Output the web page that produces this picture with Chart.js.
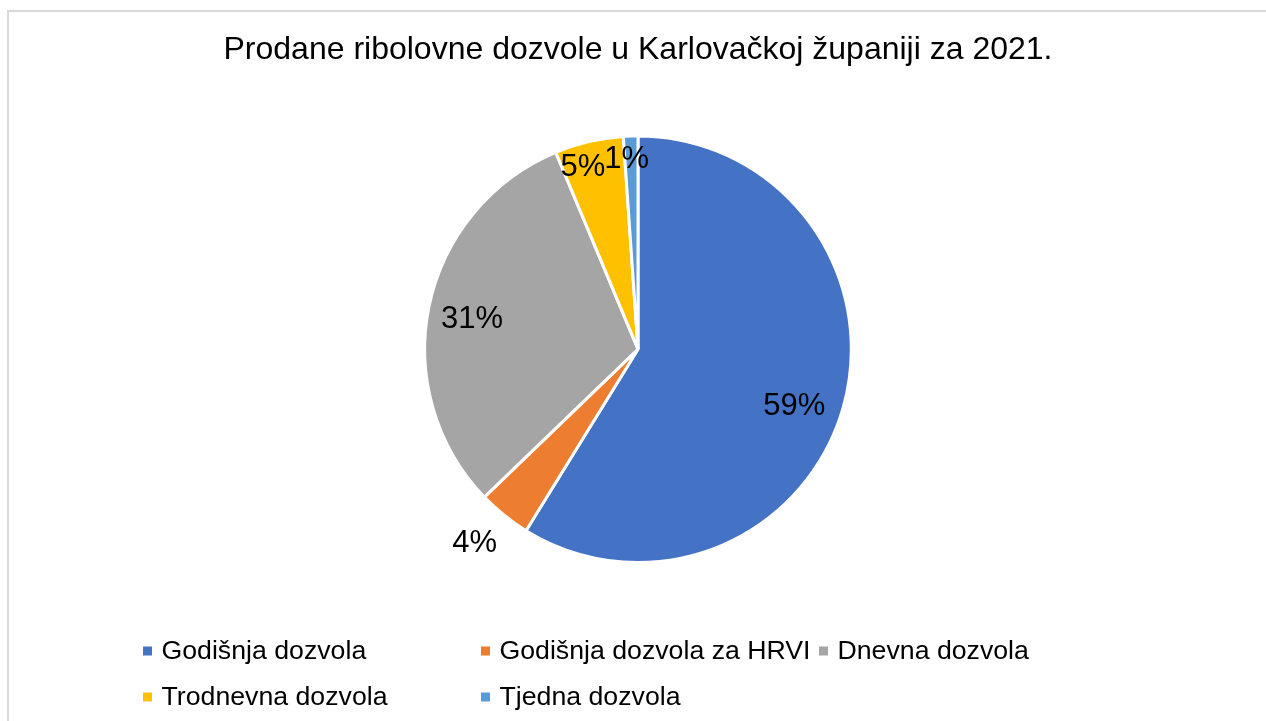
<!DOCTYPE html>
<html>
<head>
<meta charset="utf-8">
<script src="https://cdn.jsdelivr.net/npm/chart.js@4.4.1/dist/chart.umd.min.js"></script>
<style>
  html, body { margin: 0; padding: 0; background: #fff; }
  #wrap { width: 1266px; height: 721px; position: relative; }
</style>
</head>
<body>
<div id="wrap"><canvas id="pieChart"></canvas></div>
<script>
const chartTitle = "Prodane ribolovne dozvole u Karlovačkoj županiji za 2021.";
const permitTypes = [
  "Godišnja dozvola",
  "Godišnja dozvola za HRVI",
  "Dnevna dozvola",
  "Trodnevna dozvola",
  "Tjedna dozvola"
];
const permitShares = [58.8, 4.0, 30.9, 5.2, 1.1];
const sliceColors = ["#4472c4", "#ed7d31", "#a5a5a5", "#ffc000", "#5b9bd5"];

const FONT = "'Liberation Sans', Arial, sans-serif";

// label placement (Excel "best fit"): [fraction along the slice, distance / radius]
const labelPlace = [[0.52, 0.78], [0.58, 1.19], [0.485, 0.79], [0.31, 0.89], [0.13, 0.89]];
// legend item slots [x, y]
const legendSlots = [[143, 651], [481, 651], [819, 651], [143, 697], [481, 697]];

const extras = {
  id: "extras",
  beforeDraw(chart) {
    const c = chart.ctx;
    c.save();
    c.strokeStyle = "#d9d9d9";
    c.lineWidth = 2;
    c.beginPath();
    c.moveTo(8, 725);
    c.lineTo(8, 11);
    c.lineTo(1270, 11);
    c.stroke();
    c.restore();
  },
  afterDraw(chart) {
    const c = chart.ctx;
    const meta = chart.getDatasetMeta(0);
    const values = chart.data.datasets[0].data;
    const total = values.reduce((a, b) => a + b, 0);
    c.save();
    c.fillStyle = "#000";
    c.font = "31px " + FONT;
    c.textAlign = "center";
    c.textBaseline = "middle";
    meta.data.forEach((arc, i) => {
      const p = arc.getProps(["x", "y", "startAngle", "endAngle", "outerRadius"], true);
      const [f, k] = labelPlace[i];
      const a = p.startAngle + (p.endAngle - p.startAngle) * f;
      const r = p.outerRadius * k;
      const pct = Math.round(values[i] / total * 100) + "%";
      c.fillText(pct, p.x + Math.cos(a) * r, p.y + Math.sin(a) * r);
    });

    c.font = "26.7px " + FONT;
    c.textAlign = "left";
    chart.data.labels.forEach((lab, i) => {
      const [x, y] = legendSlots[i];
      c.fillStyle = sliceColors[i];
      c.fillRect(x, y - 4.5, 9, 9);
      c.fillStyle = "#000";
      c.fillText(lab, x + 18.5, y + 1);
    });
    c.restore();
  }
};

new Chart(document.getElementById("pieChart"), {
  type: "pie",
  data: {
    labels: permitTypes,
    datasets: [{
      data: permitShares,
      backgroundColor: sliceColors,
      borderColor: "#ffffff",
      borderWidth: 3
    }]
  },
  options: {
    responsive: true,
    maintainAspectRatio: false,
    animation: false,
    layout: { padding: { left: 10, right: 0, top: 0, bottom: 157 } },
    plugins: {
      legend: { display: false },
      tooltip: { enabled: false },
      title: {
        display: true,
        text: chartTitle,
        color: "#000",
        font: { family: FONT, size: 32, weight: "normal" },
        padding: { top: 31, bottom: 65 }
      }
    }
  },
  plugins: [extras]
});
</script>
</body>
</html>
